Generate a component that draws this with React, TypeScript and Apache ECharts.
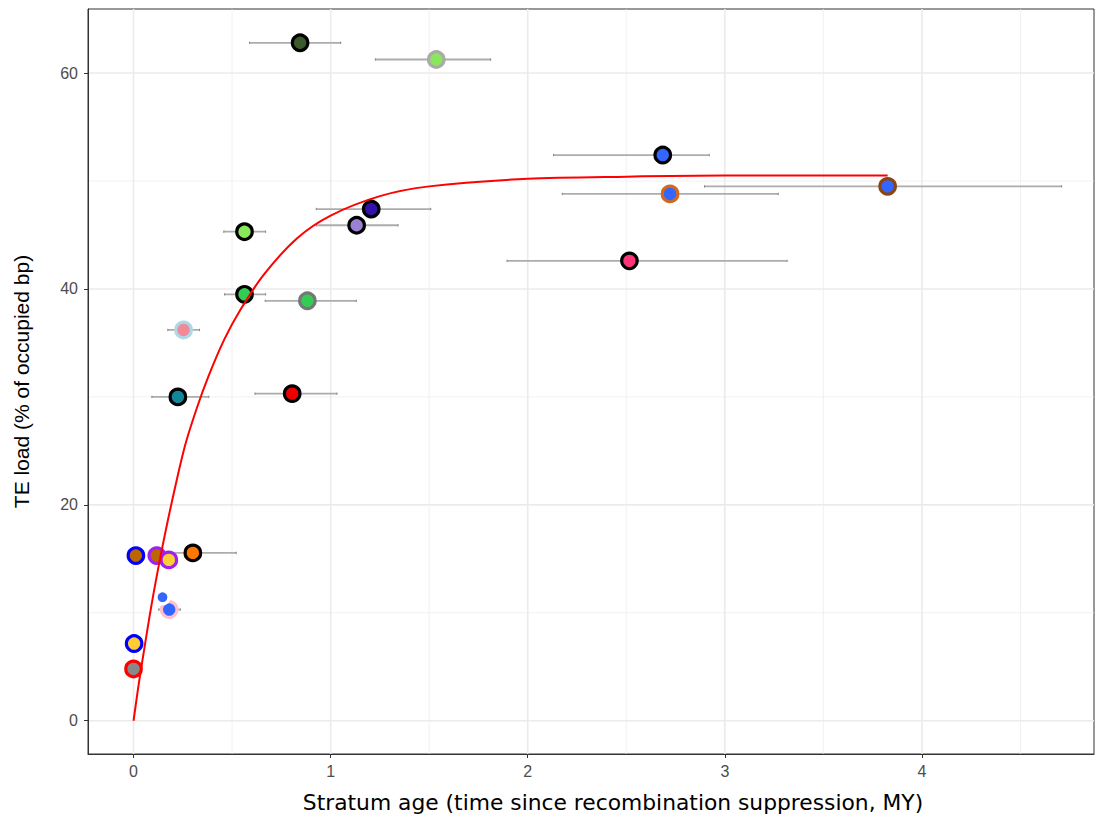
import React, { useEffect, useRef } from "react";
import * as echarts from "echarts";

// Stratum age (MY) and TE load (%) per stratum
const ageX = [0.845, 1.536, 2.685, 3.826, 2.722, 1.206, 1.132, 0.563, 2.516, 0.563, 0.882, 0.254, 0.225, 0.805, 0.301, 0.012, 0.118, 0.179, 0.181, 0.147, 0.003, 0.0];
const teLoad = [62.8, 61.25, 52.4, 49.5, 48.8, 47.4, 45.9, 45.3, 42.6, 39.5, 38.9, 36.2, 30.0, 30.3, 15.55, 15.3, 15.3, 14.9, 10.3, 11.45, 7.15, 4.8];
const ageLo: (number | null)[] = [0.589, 1.227, 2.131, 2.897, 2.175, 0.927, 0.927, 0.458, 1.895, 0.462, 0.668, 0.174, 0.093, 0.616, 0.2, null, null, null, 0.128, null, null, null];
const ageHi: (number | null)[] = [1.051, 1.812, 2.921, 4.709, 3.271, 1.508, 1.342, 0.67, 3.316, 0.67, 1.13, 0.335, 0.382, 1.032, 0.521, null, null, null, 0.237, null, null, null];
const fillColors = ["#3a5a2c", "#88e85a", "#3366ff", "#3366ff", "#3366ff", "#3311aa", "#9b80d6", "#88e85a", "#ff3377", "#33cc55", "#33cc55", "#f08a98", "#118899", "#ee0000", "#ff7700", "#bb6600", "#bb6600", "#ffcc33", "#3366ff", "#3366ff", "#ffcc33", "#888888"];
const ringColors = ["#000000", "#aaaaaa", "#000000", "#8b4513", "#d2691e", "#000000", "#000000", "#000000", "#000000", "#000000", "#777777", "#add8e6", "#000000", "#000000", "#000000", "#0000ff", "#a020f0", "#a020f0", "#ffc0cb", "#ffffff", "#0000ff", "#ff0000"];
const pointSizes = [15.5, 15.5, 15.5, 15.5, 15.5, 15.5, 15.5, 15.5, 15.5, 15.5, 15.5, 15.5, 15.5, 15.5, 15.5, 15.5, 15.5, 15.5, 15.5, 13, 15.5, 15.5];

// fitted saturation curve
const curveX = [0, 0.02, 0.04, 0.09, 0.14, 0.19, 0.26, 0.32, 0.38, 0.46, 0.54, 0.66, 0.83, 1.0, 1.25, 1.5, 2.0, 2.5, 3.0, 3.5, 3.826];
const curveY = [0, 2.6, 5.0, 10.6, 15.5, 19.9, 25.4, 28.9, 31.9, 35.3, 38.0, 41.3, 44.7, 46.8, 48.6, 49.5, 50.2, 50.4, 50.5, 50.5, 50.5];

const xTicks = [0, 1, 2, 3, 4];
const yTicks = [0, 20, 40, 60];
const xMajorGrid = [0, 1, 2, 3, 4];
const xMinorGrid = [0.5, 1.5, 2.5, 3.5, 4.5];
const yMajorGrid = [0, 20, 40, 60];
const yMinorGrid = [10, 30, 50];

const X_MIN = -0.231;
const X_MAX = 4.873;
const Y_MIN = -3.08;
const Y_MAX = 65.93;

function vGrid(width: number) {
  return (params: any, api: any) => {
    const cs = params.coordSys;
    const p = api.coord([api.value(0), 0]);
    return {
      type: "line",
      shape: { x1: p[0], y1: cs.y, x2: p[0], y2: cs.y + cs.height },
      style: { stroke: "#ebebeb", lineWidth: width },
      silent: true,
    };
  };
}
function hGrid(width: number) {
  return (params: any, api: any) => {
    const cs = params.coordSys;
    const p = api.coord([0, api.value(0)]);
    return {
      type: "line",
      shape: { x1: cs.x, y1: p[1], x2: cs.x + cs.width, y2: p[1] },
      style: { stroke: "#ebebeb", lineWidth: width },
      silent: true,
    };
  };
}

export default function App() {
  const ref = useRef<HTMLDivElement>(null);
  useEffect(() => {
    if (!ref.current) return;
    const chart = echarts.init(ref.current, undefined, { renderer: "svg" });
    const errData: number[][] = [];
    ageLo.forEach((lo, i) => {
      const hi = ageHi[i];
      if (lo != null && hi != null) errData.push([lo, hi, teLoad[i]]);
    });
    const pts = ageX.map((x, i) => ({
      value: [x, teLoad[i]],
      symbolSize: pointSizes[i],
      itemStyle: { color: fillColors[i], borderColor: ringColors[i], borderWidth: 3.2, opacity: 1 },
    }));
    const curve = curveX.map((x, i) => [x, curveY[i]]);
    chart.setOption({
      animation: false,
      backgroundColor: "#ffffff",
      grid: {
        left: 88, top: 9, width: 1006, height: 745,
        outerBoundsMode: "none", containLabel: false,
        show: true, borderColor: "#333333", borderWidth: 1, backgroundColor: "transparent",
      },
      xAxis: {
        type: "value",
        min: X_MIN,
        max: X_MAX,
        name: "Stratum age (time since recombination suppression, MY)",
        nameLocation: "middle",
        nameGap: 37,
        nameTextStyle: { color: "#000000", fontSize: 21.8, fontFamily: "DejaVu Sans", padding: [0, 0, 0, 44] },
        splitLine: { show: false },
        axisLine: { show: true, onZero: false, lineStyle: { color: "#333333", width: 1 } },
        axisTick: { show: true, length: 4, customValues: xTicks, lineStyle: { color: "#333333" } },
        axisLabel: { customValues: xTicks, color: "#4d4d4d", fontSize: 16, fontFamily: "Liberation Sans", margin: 9 },
      },
      yAxis: {
        type: "value",
        min: Y_MIN,
        max: Y_MAX,
        name: "TE load (% of occupied bp)",
        nameLocation: "middle",
        nameGap: 56,
        nameTextStyle: { color: "#000000", fontSize: 21, fontFamily: "Liberation Sans" },
        splitLine: { show: false },
        axisLine: { show: true, onZero: false, lineStyle: { color: "#333333", width: 1 } },
        axisTick: { show: true, length: 4, customValues: yTicks, lineStyle: { color: "#333333" } },
        axisLabel: { customValues: yTicks, color: "#4d4d4d", fontSize: 16, fontFamily: "Liberation Sans", margin: 10 },
      },
      series: [
        { type: "custom", renderItem: vGrid(0.7), data: xMinorGrid.map((v) => [v]), z: 0, silent: true, clip: true },
        { type: "custom", renderItem: hGrid(0.7), data: yMinorGrid.map((v) => [v]), z: 0, silent: true, clip: true },
        { type: "custom", renderItem: vGrid(1.6), data: xMajorGrid.map((v) => [v]), z: 0, silent: true, clip: true },
        { type: "custom", renderItem: hGrid(1.6), data: yMajorGrid.map((v) => [v]), z: 0, silent: true, clip: true },
        {
          type: "custom",
          z: 2,
          silent: true,
          data: errData,
          renderItem: (params: any, api: any) => {
            const a = api.coord([api.value(0), api.value(2)]);
            const b = api.coord([api.value(1), api.value(2)]);
            const st = { stroke: "#acacac", lineWidth: 1.8 };
            const cap = { stroke: "#888888", lineWidth: 1 };
            return {
              type: "group",
              children: [
                { type: "line", shape: { x1: a[0], y1: a[1], x2: b[0], y2: b[1] }, style: st },
                { type: "line", shape: { x1: a[0], y1: a[1] - 1.2, x2: a[0], y2: a[1] + 1.2 }, style: cap },
                { type: "line", shape: { x1: b[0], y1: b[1] - 1.2, x2: b[0], y2: b[1] + 1.2 }, style: cap },
              ],
            };
          },
        },
        { type: "scatter", z: 3, silent: true, data: pts },
        {
          type: "line",
          z: 4,
          silent: true,
          data: curve,
          smooth: 0.3,
          showSymbol: false,
          symbol: "none",
          lineStyle: { color: "#ff0000", width: 2 },
        },
      ],
    });
    return () => chart.dispose();
  }, []);
  return <div ref={ref} style={{ width: 1095, height: 815, position: "absolute", left: 0, top: 0 }} />;
}
